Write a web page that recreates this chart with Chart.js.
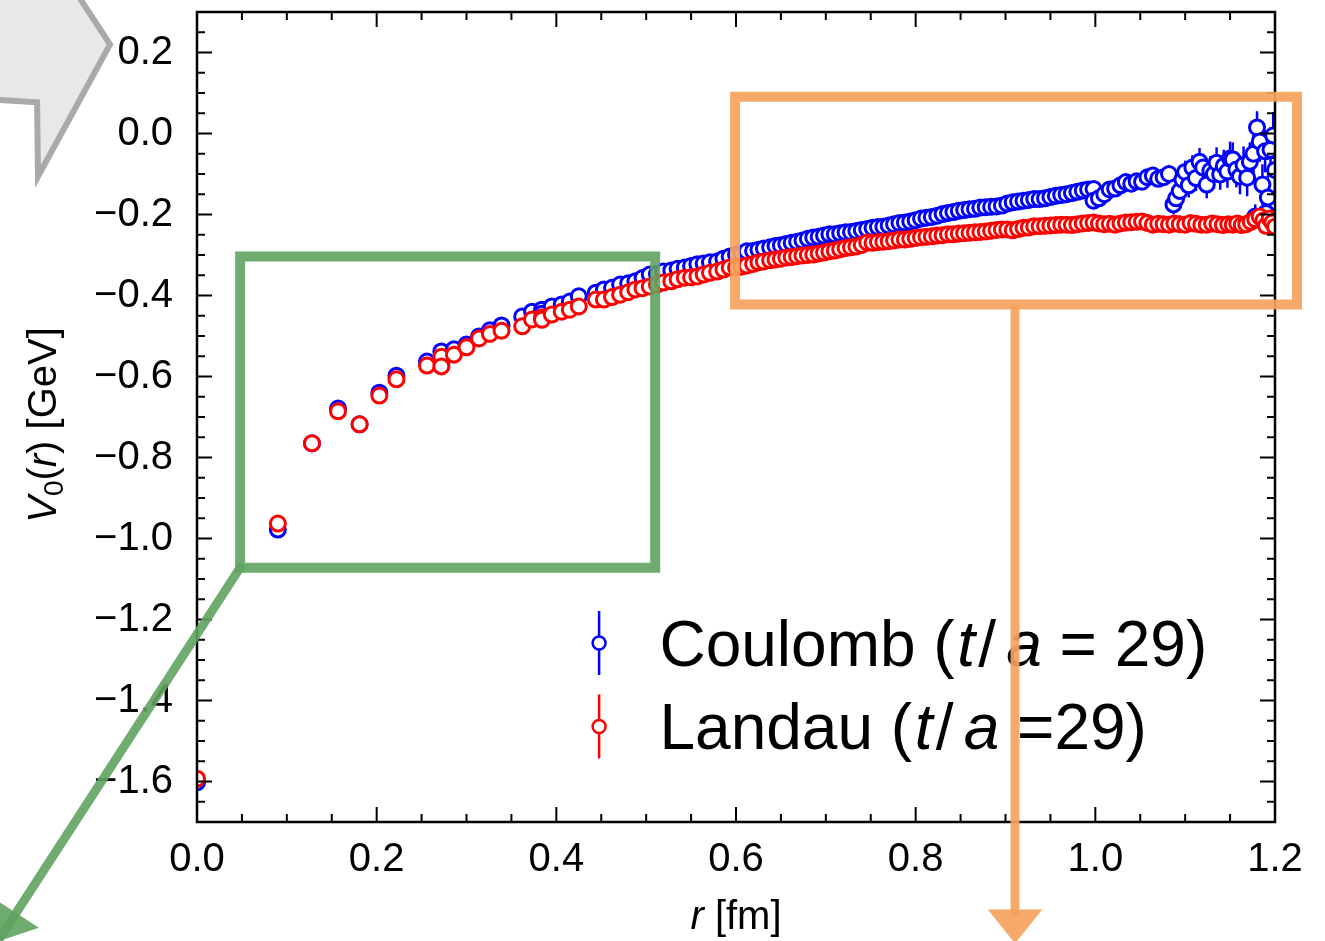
<!DOCTYPE html>
<html>
<head>
<meta charset="utf-8">
<title>V0(r) Coulomb vs Landau</title>
<script src="https://cdn.jsdelivr.net/npm/chart.js@4.4.1/dist/chart.umd.min.js"></script>
<style>
    html, body { margin: 0; padding: 0; background: #ffffff; }
    #wrap { width: 1325px; height: 941px; position: relative; overflow: hidden; }
</style>
</head>
<body>
<div id="wrap"><canvas id="potential" width="1325" height="941"></canvas></div>
<script>
// axis ticks
var xTicks = [0.0, 0.2, 0.4, 0.6, 0.8, 1.0, 1.2];
var yTicks = [-1.6, -1.4, -1.2, -1.0, -0.8, -0.6, -0.4, -0.2, 0.0, 0.2];

// Coulomb gauge, t/a = 29
var coulombR = [
    0.000, 0.090, 0.128, 0.157, 0.181, 0.203, 0.222, 0.256, 0.272, 0.272,
    0.286, 0.300, 0.314, 0.326, 0.339, 0.362, 0.373, 0.384, 0.384, 0.395,
    0.406, 0.415, 0.425, 0.444, 0.453, 0.462, 0.471, 0.480, 0.488, 0.496,
    0.504, 0.512, 0.519, 0.528, 0.535, 0.543, 0.550, 0.557, 0.564, 0.571,
    0.579, 0.586, 0.593, 0.600, 0.606, 0.612, 0.619, 0.625, 0.631, 0.638,
    0.644, 0.650, 0.656, 0.662, 0.668, 0.674, 0.680, 0.686, 0.692, 0.698,
    0.704, 0.710, 0.716, 0.722, 0.728, 0.734, 0.740, 0.746, 0.752, 0.758,
    0.764, 0.770, 0.776, 0.782, 0.788, 0.794, 0.800, 0.806, 0.812, 0.818,
    0.824, 0.830, 0.836, 0.842, 0.848, 0.854, 0.860, 0.866, 0.872, 0.878,
    0.884, 0.890, 0.896, 0.902, 0.908, 0.914, 0.920, 0.926, 0.932, 0.938,
    0.944, 0.950, 0.956, 0.962, 0.968, 0.974, 0.980, 0.986, 0.992, 0.998,
    0.998, 1.004, 1.010, 1.016, 1.022, 1.028, 1.034, 1.040, 1.046, 1.052,
    1.058, 1.064, 1.070, 1.076, 1.082, 1.087, 1.090, 1.094, 1.097, 1.100,
    1.104, 1.108, 1.112, 1.116, 1.120, 1.124, 1.128, 1.132, 1.135, 1.139,
    1.143, 1.147, 1.150, 1.153, 1.157, 1.161, 1.165, 1.169, 1.172, 1.176,
    1.178, 1.180, 1.183, 1.186, 1.189, 1.190, 1.192, 1.195, 1.198, 1.200
];
var coulombV = [
    -1.602, -0.978, -0.765, -0.679, -0.718, -0.640, -0.598, -0.563, -0.538, -0.572,
    -0.533, -0.521, -0.501, -0.486, -0.474, -0.452, -0.440, -0.435, -0.445, -0.427,
    -0.422, -0.415, -0.402, -0.393, -0.385, -0.381, -0.373, -0.370, -0.365, -0.357,
    -0.348, -0.347, -0.341, -0.338, -0.334, -0.331, -0.327, -0.323, -0.321, -0.318,
    -0.316, -0.309, -0.304, -0.299, -0.296, -0.291, -0.290, -0.287, -0.284, -0.281,
    -0.278, -0.276, -0.273, -0.270, -0.267, -0.264, -0.260, -0.257, -0.255, -0.252,
    -0.249, -0.249, -0.246, -0.244, -0.243, -0.241, -0.238, -0.236, -0.233, -0.231,
    -0.230, -0.227, -0.224, -0.221, -0.220, -0.217, -0.214, -0.210, -0.208, -0.206,
    -0.203, -0.199, -0.196, -0.194, -0.191, -0.189, -0.187, -0.186, -0.183, -0.182,
    -0.181, -0.180, -0.178, -0.173, -0.170, -0.168, -0.166, -0.164, -0.162, -0.162,
    -0.160, -0.157, -0.154, -0.152, -0.150, -0.147, -0.144, -0.141, -0.138, -0.137,
    -0.166, -0.160, -0.150, -0.138, -0.136, -0.128, -0.120, -0.124, -0.118, -0.119,
    -0.108, -0.104, -0.112, -0.108, -0.100, -0.175, -0.160, -0.142, -0.114, -0.095,
    -0.128, -0.084, -0.110, -0.070, -0.084, -0.126, -0.092, -0.100, -0.072, -0.101,
    -0.080, -0.094, -0.062, -0.064, -0.089, -0.106, -0.078, -0.109, -0.070, -0.050,
    -0.205, 0.015, -0.020, -0.126, -0.044, -0.196, -0.158, -0.040, -0.005, -0.090
];
var coulombErr = [
    0.004, 0.004, 0.004, 0.004, 0.004, 0.004, 0.004, 0.004, 0.004, 0.004,
    0.004, 0.004, 0.004, 0.004, 0.004, 0.004, 0.004, 0.004, 0.004, 0.004,
    0.004, 0.004, 0.004, 0.004, 0.004, 0.004, 0.004, 0.004, 0.004, 0.004,
    0.004, 0.004, 0.004, 0.004, 0.004, 0.004, 0.004, 0.004, 0.004, 0.004,
    0.004, 0.004, 0.004, 0.004, 0.004, 0.004, 0.004, 0.004, 0.004, 0.004,
    0.004, 0.004, 0.004, 0.004, 0.004, 0.004, 0.004, 0.004, 0.004, 0.004,
    0.005, 0.005, 0.005, 0.005, 0.005, 0.005, 0.005, 0.005, 0.005, 0.005,
    0.005, 0.005, 0.005, 0.005, 0.005, 0.005, 0.005, 0.005, 0.005, 0.005,
    0.005, 0.005, 0.005, 0.005, 0.005, 0.005, 0.005, 0.005, 0.005, 0.005,
    0.006, 0.006, 0.006, 0.006, 0.006, 0.006, 0.006, 0.006, 0.006, 0.006,
    0.007, 0.007, 0.007, 0.007, 0.008, 0.008, 0.008, 0.008, 0.009, 0.009,
    0.012, 0.012, 0.010, 0.010, 0.010, 0.012, 0.012, 0.012, 0.014, 0.014,
    0.016, 0.016, 0.018, 0.018, 0.020, 0.025, 0.025, 0.025, 0.028, 0.028,
    0.030, 0.030, 0.032, 0.034, 0.034, 0.034, 0.036, 0.036, 0.038, 0.038,
    0.040, 0.040, 0.042, 0.042, 0.044, 0.044, 0.046, 0.046, 0.048, 0.048,
    0.030, 0.040, 0.050, 0.050, 0.052, 0.030, 0.055, 0.055, 0.058, 0.060
];

// Landau gauge, t/a = 29
var landauR = [
    0.000, 0.090, 0.128, 0.157, 0.181, 0.203, 0.222, 0.256, 0.272, 0.272,
    0.286, 0.300, 0.314, 0.326, 0.339, 0.362, 0.373, 0.384, 0.384, 0.395,
    0.406, 0.415, 0.425, 0.444, 0.453, 0.462, 0.471, 0.480, 0.488, 0.496,
    0.504, 0.512, 0.519, 0.528, 0.535, 0.543, 0.550, 0.557, 0.564, 0.571,
    0.579, 0.586, 0.593, 0.600, 0.606, 0.612, 0.619, 0.625, 0.631, 0.638,
    0.644, 0.650, 0.656, 0.662, 0.668, 0.674, 0.680, 0.686, 0.692, 0.698,
    0.704, 0.710, 0.716, 0.722, 0.728, 0.734, 0.740, 0.746, 0.752, 0.758,
    0.764, 0.770, 0.776, 0.782, 0.788, 0.794, 0.800, 0.806, 0.812, 0.818,
    0.824, 0.830, 0.836, 0.842, 0.848, 0.854, 0.860, 0.866, 0.872, 0.878,
    0.884, 0.890, 0.896, 0.902, 0.908, 0.914, 0.920, 0.926, 0.932, 0.938,
    0.944, 0.950, 0.956, 0.962, 0.968, 0.974, 0.980, 0.986, 0.992, 0.998,
    1.004, 1.010, 1.016, 1.022, 1.028, 1.034, 1.040, 1.046, 1.052, 1.058,
    1.064, 1.070, 1.076, 1.082, 1.088, 1.094, 1.100, 1.106, 1.112, 1.118,
    1.124, 1.130, 1.136, 1.142, 1.148, 1.153, 1.158, 1.163, 1.168, 1.173,
    1.178, 1.183, 1.187, 1.190, 1.194, 1.197, 1.200
];
var landauV = [
    -1.593, -0.963, -0.765, -0.686, -0.718, -0.647, -0.607, -0.573, -0.551, -0.575,
    -0.546, -0.528, -0.506, -0.495, -0.487, -0.476, -0.459, -0.454, -0.460, -0.447,
    -0.440, -0.435, -0.427, -0.410, -0.410, -0.404, -0.398, -0.392, -0.385, -0.382,
    -0.378, -0.373, -0.368, -0.365, -0.360, -0.356, -0.355, -0.353, -0.348, -0.344,
    -0.341, -0.336, -0.331, -0.331, -0.329, -0.326, -0.322, -0.318, -0.316, -0.313,
    -0.311, -0.309, -0.306, -0.305, -0.303, -0.301, -0.300, -0.299, -0.296, -0.294,
    -0.291, -0.289, -0.286, -0.283, -0.281, -0.279, -0.275, -0.269, -0.270, -0.268,
    -0.267, -0.266, -0.264, -0.262, -0.262, -0.260, -0.258, -0.256, -0.255, -0.254,
    -0.252, -0.251, -0.249, -0.249, -0.247, -0.246, -0.245, -0.244, -0.243, -0.242,
    -0.240, -0.238, -0.237, -0.237, -0.239, -0.236, -0.233, -0.232, -0.229, -0.229,
    -0.228, -0.227, -0.226, -0.225, -0.225, -0.226, -0.224, -0.222, -0.221, -0.220,
    -0.222, -0.224, -0.223, -0.225, -0.222, -0.220, -0.219, -0.218, -0.217, -0.221,
    -0.225, -0.223, -0.224, -0.225, -0.222, -0.224, -0.225, -0.221, -0.223, -0.225,
    -0.225, -0.222, -0.224, -0.226, -0.224, -0.225, -0.222, -0.226, -0.224, -0.218,
    -0.212, -0.205, -0.215, -0.228, -0.210, -0.220, -0.230
];
var landauErr = [
    0.003, 0.003, 0.003, 0.003, 0.003, 0.003, 0.003, 0.003, 0.003, 0.003,
    0.003, 0.003, 0.003, 0.003, 0.003, 0.003, 0.003, 0.003, 0.003, 0.003,
    0.003, 0.003, 0.003, 0.003, 0.003, 0.003, 0.003, 0.003, 0.003, 0.003,
    0.003, 0.003, 0.003, 0.003, 0.003, 0.003, 0.003, 0.003, 0.003, 0.003,
    0.003, 0.003, 0.003, 0.003, 0.003, 0.003, 0.003, 0.003, 0.003, 0.003,
    0.003, 0.003, 0.003, 0.003, 0.003, 0.003, 0.003, 0.003, 0.003, 0.003,
    0.003, 0.003, 0.003, 0.003, 0.003, 0.003, 0.003, 0.003, 0.003, 0.003,
    0.003, 0.003, 0.003, 0.003, 0.003, 0.003, 0.003, 0.003, 0.003, 0.003,
    0.003, 0.003, 0.003, 0.003, 0.003, 0.003, 0.003, 0.003, 0.003, 0.003,
    0.004, 0.004, 0.004, 0.004, 0.004, 0.004, 0.004, 0.004, 0.004, 0.004,
    0.004, 0.004, 0.004, 0.004, 0.004, 0.004, 0.004, 0.004, 0.004, 0.004,
    0.005, 0.005, 0.005, 0.005, 0.005, 0.005, 0.005, 0.005, 0.005, 0.005,
    0.006, 0.006, 0.006, 0.006, 0.006, 0.006, 0.006, 0.006, 0.006, 0.006,
    0.008, 0.008, 0.009, 0.009, 0.010, 0.010, 0.011, 0.011, 0.012, 0.012,
    0.015, 0.016, 0.017, 0.018, 0.018, 0.019, 0.020
];

var FONT = '"Liberation Sans", Arial, Helvetica, sans-serif';

function toPoints(rs, vs, es) {
    return rs.map((r, i) => ({ x: r, y: vs[i], e: es[i] }));
}

// r in fm, V in GeV -> canvas pixels
function at(chart, r, v) {
    return [chart.scales.x.getPixelForValue(r), chart.scales.y.getPixelForValue(v)];
}

function tickLabel(value) {
    let s = Math.abs(value).toFixed(1);
    return value < -1e-9 ? '\u2212' + s : s;
}

// vertical error bars, drawn right under each dataset's markers
var errorBars = {
    id: 'errorBars',
    beforeDatasetDraw(chart, args) {
        let ds = chart.data.datasets[args.index];
        let ctx = chart.ctx, a = chart.chartArea;
        ctx.save();
        ctx.beginPath();
        ctx.rect(a.left, a.top, a.right - a.left, a.bottom - a.top);
        ctx.clip();
        ctx.strokeStyle = ds.borderColor;
        ctx.lineWidth = 2.5;
        ds.data.forEach((p) => {
            let lo = at(chart, p.x, p.y - p.e), hi = at(chart, p.x, p.y + p.e);
            ctx.beginPath();
            ctx.moveTo(lo[0], lo[1]);
            ctx.lineTo(hi[0], hi[1]);
            ctx.stroke();
        });
        ctx.restore();
    }
};

// box frame with inward ticks on all four sides
var frameTicks = {
    id: 'frameTicks',
    afterDatasetsDraw(chart) {
        let ctx = chart.ctx, a = chart.chartArea;
        let xs = chart.scales.x, ys = chart.scales.y;
        ctx.save();
        ctx.strokeStyle = '#000000';
        ctx.lineWidth = 2;
        let isMajor = (list, v) => list.some((t) => Math.abs(t - v) < 1e-6);
        for (let k = 0; k <= 24; k++) {
            let v = k * 0.05;
            let p = xs.getPixelForValue(v);
            let len = isMajor(xTicks, v) ? 15 : 8;
            ctx.beginPath();
            ctx.moveTo(p, a.bottom); ctx.lineTo(p, a.bottom - len);
            ctx.moveTo(p, a.top); ctx.lineTo(p, a.top + len);
            ctx.stroke();
        }
        for (let k = 0; k <= 40; k++) {
            let v = -1.7 + k * 0.05;
            let p = ys.getPixelForValue(v);
            let len = isMajor(yTicks, v) ? 15 : 8;
            ctx.beginPath();
            ctx.moveTo(a.left, p); ctx.lineTo(a.left + len, p);
            ctx.moveTo(a.right, p); ctx.lineTo(a.right - len, p);
            ctx.stroke();
        }
        ctx.lineWidth = 2.5;
        ctx.strokeRect(a.left, a.top, a.right - a.left, a.bottom - a.top);
        ctx.restore();
    }
};

function drawRuns(ctx, runs, x, y, size) {
    runs.forEach((run) => {
        ctx.font = (run.it ? 'italic ' : '') + Math.round(size * (run.scale || 1)) + 'px ' + FONT;
        ctx.fillText(run.t, x, y + (run.dy || 0) * size);
        x += ctx.measureText(run.t).width + (run.gap || 0) * size;
    });
    return x;
}

function runsWidth(ctx, runs, size) {
    let w = 0;
    runs.forEach((run) => {
        ctx.font = (run.it ? 'italic ' : '') + Math.round(size * (run.scale || 1)) + 'px ' + FONT;
        w += ctx.measureText(run.t).width + (run.gap || 0) * size;
    });
    return w;
}

// axis titles and legend
var labels = {
    id: 'labels',
    afterDraw(chart) {
        let ctx = chart.ctx, a = chart.chartArea;
        ctx.save();
        ctx.fillStyle = '#000000';
        ctx.textBaseline = 'alphabetic';
        ctx.textAlign = 'left';

        let xTitle = [{ t: 'r', it: true }, { t: ' [fm]' }];
        let w = runsWidth(ctx, xTitle, 40);
        drawRuns(ctx, xTitle, (a.left + a.right) / 2 - w / 2, 929, 40);

        let yTitle = [{ t: 'V', it: true }, { t: '0', scale: 0.7, dy: 0.18 }, { t: '(' },
                      { t: 'r', it: true }, { t: ') [GeV]' }];
        w = runsWidth(ctx, yTitle, 40);
        ctx.save();
        ctx.translate(56, (a.top + a.bottom) / 2 + 8);
        ctx.rotate(-Math.PI / 2);
        drawRuns(ctx, yTitle, -w / 2, 0, 40);
        ctx.restore();

        let entries = [
            { color: '#0000ff', runs: [{ t: 'Coulomb (', gap: 0.04 }, { t: 't', it: true, gap: 0.05 }, { t: '/', gap: 0.16 },
                                       { t: 'a', it: true }, { t: ' = 29)' }] },
            { color: '#ff0000', runs: [{ t: 'Landau (', gap: 0.04 }, { t: 't', it: true, gap: 0.05 }, { t: '/', gap: 0.16 },
                                       { t: 'a', it: true }, { t: ' =29)' }] }
        ];
        let mx = a.left + (a.right - a.left) * 0.373;
        let tx = a.left + (a.right - a.left) * 0.429;
        entries.forEach((en, i) => {
            let cy = a.top + (a.bottom - a.top) * (0.779 + i * 0.103);
            ctx.strokeStyle = en.color;
            ctx.lineWidth = 2.5;
            ctx.beginPath();
            ctx.moveTo(mx, cy - 32); ctx.lineTo(mx, cy + 32);
            ctx.stroke();
            ctx.beginPath();
            ctx.arc(mx, cy, 6.5, 0, Math.PI * 2);
            ctx.fillStyle = '#ffffff';
            ctx.fill();
            ctx.stroke();
            ctx.fillStyle = '#000000';
            drawRuns(ctx, en.runs, tx, cy + 23, 64);
        });
        ctx.restore();

        drawMarkup(chart);
    }
};

function strokePath(ctx, pts, color, width, closed) {
    ctx.beginPath();
    ctx.moveTo(pts[0][0], pts[0][1]);
    for (let i = 1; i < pts.length; i++) ctx.lineTo(pts[i][0], pts[i][1]);
    if (closed) ctx.closePath();
    ctx.strokeStyle = color;
    ctx.lineWidth = width;
    ctx.stroke();
}

function arrowHead(ctx, from, tip, size, color) {
    let dx = tip[0] - from[0], dy = tip[1] - from[1];
    let len = Math.hypot(dx, dy), ux = dx / len, uy = dy / len;
    let bx = tip[0] - ux * size, by = tip[1] - uy * size;
    ctx.beginPath();
    ctx.moveTo(tip[0], tip[1]);
    ctx.lineTo(bx - uy * size * 0.8, by + ux * size * 0.8);
    ctx.lineTo(bx + uy * size * 0.8, by - ux * size * 0.8);
    ctx.closePath();
    ctx.fillStyle = color;
    ctx.fill();
}

// hand-drawn highlight boxes and arrows, placed in (r, V) coordinates
function drawMarkup(chart) {
    let ctx = chart.ctx;
    ctx.save();
    ctx.lineJoin = 'miter';
    ctx.lineCap = 'square';

    // grey pointer, top left
    let grey = [[-0.230, 0.380], [-0.144, 0.380], [-0.0968, 0.220], [-0.177, -0.106],
                [-0.178, 0.077], [-0.230, 0.084]].map((p) => at(chart, p[0], p[1]));
    ctx.beginPath();
    grey.forEach((p, i) => i ? ctx.lineTo(p[0], p[1]) : ctx.moveTo(p[0], p[1]));
    ctx.closePath();
    ctx.fillStyle = '#e8e8e8';
    ctx.fill();
    strokePath(ctx, grey.slice(1), 'rgba(165,165,165,0.95)', 6, false);

    // green box around the short-distance region
    let green = 'rgba(96,163,96,0.9)';
    let g = [[0.048, -0.304], [0.510, -0.304], [0.510, -1.072], [0.048, -1.072]].map((p) => at(chart, p[0], p[1]));
    strokePath(ctx, g, green, 10, true);
    let gFrom = at(chart, 0.048, -1.072), gTip = at(chart, -0.222, -1.995);
    ctx.lineCap = 'round';
    strokePath(ctx, [gFrom, gTip], green, 9, false);
    arrowHead(ctx, gFrom, gTip, 34, green);

    // orange box around the long-distance region
    let orange = 'rgba(245,163,92,0.92)';
    ctx.lineCap = 'square';
    let o = [[0.599, 0.091], [1.2245, 0.091], [1.2245, -0.422], [0.599, -0.422]].map((p) => at(chart, p[0], p[1]));
    strokePath(ctx, o, orange, 10, true);
    let oFrom = at(chart, 0.9106, -0.422), oTip = at(chart, 0.9106, -2.000);
    ctx.lineCap = 'butt';
    strokePath(ctx, [oFrom, at(chart, 0.9106, -1.93)], orange, 9, false);
    arrowHead(ctx, oFrom, oTip, 34, orange);
    ctx.restore();
}

var commonScale = {
    type: 'linear',
    grid: { display: false, drawTicks: false },
    border: { display: false },
    ticks: {
        color: '#000000',
        font: { family: FONT, size: 40 },
        callback: (v) => tickLabel(v)
    }
};

new Chart(document.getElementById('potential'), {
    type: 'scatter',
    data: {
        datasets: [
            {
                label: 'Coulomb (t/a = 29)',
                data: toPoints(coulombR, coulombV, coulombErr),
                borderColor: '#0000ff',
                backgroundColor: '#ffffff',
                pointRadius: 7.5,
                pointBorderWidth: 3,
                order: 1
            },
            {
                label: 'Landau (t/a =29)',
                data: toPoints(landauR, landauV, landauErr),
                borderColor: '#ff0000',
                backgroundColor: '#ffffff',
                pointRadius: 7.5,
                pointBorderWidth: 3,
                order: 0
            }
        ]
    },
    options: {
        responsive: false,
        devicePixelRatio: 1,
        animation: false,
        events: [],
        layout: { padding: { left: 0, right: 50, top: 12, bottom: 0 } },
        plugins: { legend: { display: false }, tooltip: { enabled: false } },
        scales: {
            x: Object.assign({}, commonScale, {
                min: 0, max: 1.2,
                ticks: Object.assign({}, commonScale.ticks, { padding: 14, maxRotation: 0, autoSkip: false }),
                afterBuildTicks: (scale) => { scale.ticks = xTicks.map((v) => ({ value: v })); },
                afterFit: (scale) => { scale.height = 119; scale.paddingLeft = 0; scale.paddingRight = 0; }
            }),
            y: Object.assign({}, commonScale, {
                min: -1.7, max: 0.3,
                ticks: Object.assign({}, commonScale.ticks, { padding: 24, autoSkip: false }),
                afterBuildTicks: (scale) => { scale.ticks = yTicks.map((v) => ({ value: v })); },
                afterFit: (scale) => { scale.width = 197; scale.paddingTop = 0; scale.paddingBottom = 0; }
            })
        }
    },
    plugins: [errorBars, frameTicks, labels]
});
</script>
</body>
</html>
